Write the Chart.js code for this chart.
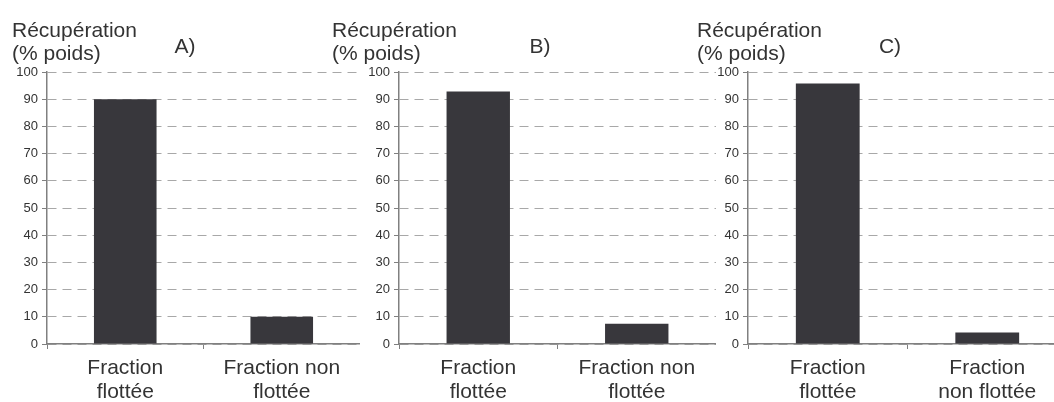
<!DOCTYPE html>
<html>
<head>
<meta charset="utf-8">
<script src="https://cdn.jsdelivr.net/npm/chart.js@4.4.0/dist/chart.umd.min.js"></script>
<style>
  html, body { margin: 0; padding: 0; background: #fff; overflow: hidden; }
  body { width: 1054px; height: 402px; position: relative; }
  .panel { position: absolute; top: 0; height: 402px; }
</style>
</head>
<body>
<div class="panel" style="left:0px;width:360px"><canvas id="graf_a"></canvas></div>
<div class="panel" style="left:300px;width:416px"><canvas id="graf_b"></canvas></div>
<div class="panel" style="left:650px;width:417px"><canvas id="graf_c"></canvas></div>
<script>
// datos
const categoriesAB = [['Fraction', 'flottée'], ['Fraction non', 'flottée']];
const categoriesC = [['Fraction', 'flottée'], ['Fraction', 'non flottée']];
const valuesA = [90, 10];
const valuesB = [92.8, 7.4];
const valuesC = [95.8, 4.2];
const panelLetters = ['A)', 'B)', 'C)'];
const yTitleLines = ['Récupération', '(% poids)'];
const yMin = 0;
const yMax = 100;
const yStep = 10;

const textFont = "'Liberation Sans', Arial, sans-serif";

// plugin para el titulo del eje y y la letra del panel
const panelText = {
    id: 'panelText',
    afterDraw(chart, args, opts) {
        const c = chart.ctx;
        c.save();
        c.fillStyle = '#333';
        c.font = '21px ' + textFont;
        c.textAlign = 'left';
        c.textBaseline = 'alphabetic';
        c.fillText(yTitleLines[0], opts.labelX, 37);
        c.fillText(yTitleLines[1], opts.labelX, 60);
        c.textAlign = 'center';
        c.fillText(opts.letter, opts.letterX, 53);
        c.restore();
    }
};

function makePanel(id, labels, values, letter, axisWidth, labelX, letterX) {
    const ctx = document.getElementById(id).getContext('2d');
    return new Chart(ctx, {
        type: 'bar',
        data: {
            labels: labels,
            datasets: [{
                data: values,
                backgroundColor: '#38373c',
                barPercentage: 0.4,
                categoryPercentage: 1.0
            }]
        },
        options: {
            responsive: true,
            maintainAspectRatio: false,
            animation: false,
            layout: { padding: { top: 72, right: 0, bottom: 0, left: 0 } },
            scales: {
                x: {
                    grid: {
                        drawOnChartArea: false,
                        drawTicks: true,
                        tickLength: 5,
                        color: '#808080'
                    },
                    border: { color: '#808080', width: 1.5 },
                    ticks: {
                        color: '#333',
                        padding: 7,
                        maxRotation: 0,
                        autoSkip: false,
                        font: { size: 21, family: textFont, lineHeight: 1.15 }
                    },
                    afterFit: (axis) => { axis.height = 58; }
                },
                y: {
                    min: yMin,
                    max: yMax,
                    grid: {
                        color: '#a8a8a8',
                        tickColor: '#808080',
                        tickLength: 5,
                        tickBorderDash: []
                    },
                    border: { color: '#808080', width: 1.5, dash: [9, 6] },
                    ticks: {
                        stepSize: yStep,
                        color: '#333',
                        padding: 4,
                        font: { size: 13, family: textFont }
                    },
                    afterFit: (axis) => { axis.width = axisWidth; }
                }
            },
            plugins: {
                legend: { display: false },
                tooltip: { enabled: false },
                panelText: { letter: letter, labelX: labelX, letterX: letterX }
            }
        },
        plugins: [panelText]
    });
}

const chart_a = makePanel('graf_a', categoriesAB, valuesA, panelLetters[0], 47, 12, 185);
const chart_b = makePanel('graf_b', categoriesAB, valuesB, panelLetters[1], 99, 32, 240);
const chart_c = makePanel('graf_c', categoriesC, valuesC, panelLetters[2], 98, 47, 240);
</script>
</body>
</html>
